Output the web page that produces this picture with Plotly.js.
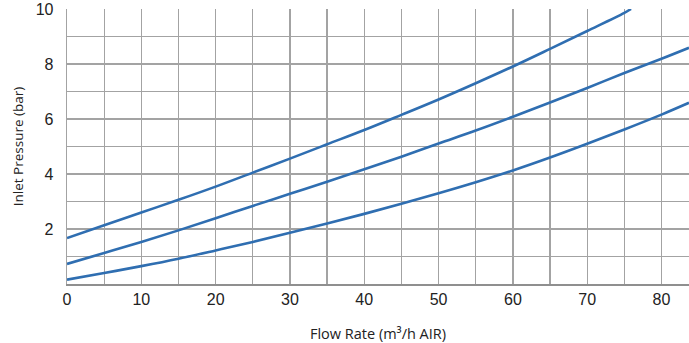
<!DOCTYPE html>
<html><head><meta charset="utf-8">
<script src="https://cdn.plot.ly/plotly-3.0.1.min.js"></script>
<style>html,body{margin:0;padding:0;background:#fff}#chart{width:689px;height:343px}</style>
</head><body><div id="chart"></div>
<script>
const flow = [0, 5, 10, 15, 20, 25, 30, 35, 40, 45, 50, 55, 60, 65, 70, 75, 80, 83.7];
const topFlow = [0, 5, 10, 15, 20, 25, 30, 35, 40, 45, 50, 55, 60, 65, 70, 75, 75.9];
const topVals = [1.67, 2.14, 2.6, 3.06, 3.54, 4.05, 4.56, 5.08, 5.6, 6.15, 6.71, 7.3, 7.91, 8.55, 9.2, 9.86, 10.0];
const midVals = [0.73, 1.13, 1.53, 1.95, 2.39, 2.84, 3.28, 3.72, 4.17, 4.63, 5.11, 5.58, 6.08, 6.6, 7.13, 7.67, 8.19, 8.59];
const lowVals = [0.16, 0.4, 0.65, 0.92, 1.22, 1.53, 1.86, 2.2, 2.55, 2.92, 3.3, 3.7, 4.13, 4.6, 5.1, 5.62, 6.16, 6.59];
const xTicks = [0, 10, 20, 30, 40, 50, 60, 70, 80];
const yTicks = [2, 4, 6, 8, 10];

const lineStyle = {color: '#2f6eb1', width: 2.6, shape: 'spline', smoothing: 1};
const traces = [
  {x: topFlow, y: topVals, mode: 'lines', line: lineStyle, hoverinfo: 'skip'},
  {x: flow, y: midVals, mode: 'lines', line: lineStyle, hoverinfo: 'skip'},
  {x: flow, y: lowVals, mode: 'lines', line: lineStyle, hoverinfo: 'skip'}
];
const gridColor = '#a3a3a3';
const layout = {
  width: 689, height: 343,
  margin: {l: 67, r: 0, t: 9, b: 59},
  paper_bgcolor: '#fff', plot_bgcolor: '#fff',
  showlegend: false,
  xaxis: {
    range: [0, 83.7], tickvals: xTicks, ticktext: xTicks.map(String),
    showgrid: true, gridcolor: gridColor, gridwidth: 1.3,
    minor: {dtick: 5, tick0: 0, showgrid: true, gridcolor: gridColor, gridwidth: 1.3},
    showline: true, linecolor: '#8f8f8f', linewidth: 1.5,
    zeroline: false, ticks: '', ticklabelstandoff: 0,
    tickfont: {family: 'Liberation Sans, Arial, sans-serif', size: 16, color: '#222'},
    title: {text: 'Flow Rate (m³/h AIR)', standoff: 24,
      font: {family: 'Open Sans, sans-serif', size: 14.5, color: '#222'}}
  },
  yaxis: {
    range: [0, 10], tickvals: yTicks, ticktext: yTicks.map(String),
    showgrid: true, gridcolor: gridColor, gridwidth: 1.3,
    minor: {dtick: 1, tick0: 0, showgrid: true, gridcolor: gridColor, gridwidth: 1.3},
    showline: true, linecolor: '#a3a3a3', linewidth: 1.3,
    zeroline: false, ticks: '', ticklabelstandoff: 9,
    tickfont: {family: 'Liberation Sans, Arial, sans-serif', size: 16, color: '#222'},
    title: {text: 'Inlet Pressure (bar)', standoff: 9,
      font: {family: 'Open Sans, sans-serif', size: 13.5, color: '#222'}}
  }
};
Plotly.newPlot('chart', traces, layout, {displayModeBar: false, staticPlot: true});
</script>
</body></html>
